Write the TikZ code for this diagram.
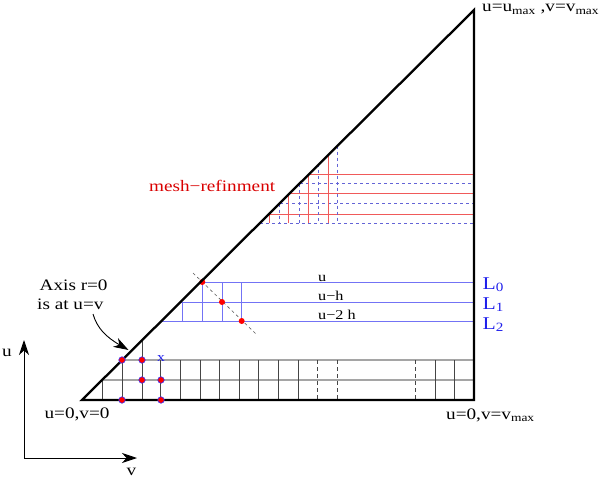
\documentclass[tikz,border=0pt]{standalone}
\usepackage{fontspec}
\setmainfont[FakeStretch=1.2]{Liberation Serif}
\usetikzlibrary{arrows.meta}
\definecolor{blueline}{RGB}{115,115,245}
\definecolor{redline}{RGB}{240,90,90}
\definecolor{bluedash}{RGB}{100,100,215}
\definecolor{gridh}{RGB}{165,165,165}
\definecolor{gridv}{RGB}{70,70,70}
\definecolor{lblue}{RGB}{30,30,235}
\begin{document}
\begin{tikzpicture}[x=1pt,y=-1pt,
  frame/.style={line width=2.3pt,line join=miter},
  gh/.style={gridh,line width=1.1pt},
  gv/.style={gridv,line width=0.8pt},
  gvd/.style={gridv,line width=0.8pt,dash pattern=on 4pt off 3pt},
  bl/.style={blueline,line width=0.9pt},
  rl/.style={redline,line width=1pt},
  bd/.style={bluedash,line width=0.9pt,dash pattern=on 3pt off 3pt},
  meshdot/.style={circle,fill=red,draw=blue!80,line width=0.6pt,inner sep=0pt,minimum size=6.5pt},
  reddot/.style={circle,fill=red,inner sep=0pt,minimum size=6pt},
  txt/.style={inner sep=0pt,font=\fontsize{16}{18}\selectfont},
  small/.style={inner sep=0pt,font=\fontsize{13.5}{15}\selectfont},
  llab/.style={inner sep=0pt,text=lblue,font=\fontsize{18}{20}\selectfont},
  arr/.style={line width=0.9pt,-{Stealth[length=15pt,width=10pt,inset=4.5pt]}}
]
\useasboundingbox (0,0) rectangle (599,478);

% ---------- bottom mesh ----------
\draw[gh] (122.2,360) -- (474,360);
\draw[gh] (102.1,380) -- (474,380);
\draw[gv] (102.1,380) -- (102.1,400);
\draw[gv] (122,360) -- (122,400);
\draw[gv] (142,340.3) -- (142,400);
\foreach \k in {3,...,10,17,18} {
  \draw[gv] ({102+19.6*\k},360) -- ({102+19.6*\k},400);
}
\foreach \k in {11,12,16} {
  \draw[gvd] ({102+19.6*\k},360) -- ({102+19.6*\k},400);
}

% ---------- blue lines L0 L1 L2 ----------
\draw[bl] (200.6,282) -- (474,282);
\draw[bl] (180.5,302) -- (474,302);
\draw[bl] (161.4,321) -- (474,321);
\draw[bl] (182.5,302) -- (182.5,321);
\draw[bl] (202.3,282) -- (202.3,321);
\draw[bl] (222,282) -- (222,321);
\draw[bl] (241.7,282) -- (241.7,321);
\coordinate (dA) at (193,273);
\coordinate (dB) at (256,334);
\draw[gray!70!black,line width=0.6pt,dash pattern=on 3pt off 3pt] (dA) -- (dB);
\node[reddot] (r0) at (202.3,282) {};
\node[reddot] (r1) at (222,302) {};
\node[reddot] (r2) at (241.7,321) {};

% ---------- mesh refinement ----------
\draw[rl] (308.7,174.5) -- (474,174.5);
\draw[rl] (289.3,193.5) -- (474,193.5);
\draw[rl] (268.5,214.5) -- (474,214.5);
\draw[bd] (299.8,183.5) -- (474,183.5);
\draw[bd] (280.0,203.5) -- (474,203.5);
\draw[bd] (259.9,223.5) -- (474,223.5);
\draw[rl] (269.5,213.7) -- (269.5,223.5);
\draw[rl] (288.5,194.4) -- (288.5,223.5);
\draw[rl] (308.5,174.9) -- (308.5,223.5);
\draw[rl] (328.5,155.0) -- (328.5,223.5);
\draw[bd] (279.3,203.7) -- (279.3,223.5);
\draw[bd] (299.0,184.1) -- (299.0,223.5);
\draw[bd] (318.7,164.5) -- (318.7,223.5);
\draw[bd] (337.7,145.6) -- (337.7,223.5);

% ---------- triangle ----------
\coordinate (A) at (82,400);
\coordinate (B) at (474,10);
\coordinate (C) at (474,400);
\draw[frame] (A) -- (B) -- (C) -- cycle;

% ---------- mesh dots ----------
\node[meshdot] (m1) at (122,360) {};
\node[meshdot] (m2) at (142,360) {};
\node[meshdot] (m3) at (142,380) {};
\node[meshdot] (m4) at (161,380) {};
\node[meshdot] (m5) at (122,400) {};
\node[meshdot] (m6) at (161,400) {};
\node[inner sep=0pt,text=lblue,font=\fontsize{13}{14}\selectfont] (xl) at (161,358.5) {x};

% ---------- labels ----------
\node[txt,anchor=base west] (tl) at (482,12) {u=u\textsubscript{max} ,v=v\textsubscript{max}};
\node[txt,anchor=base] (bl0) at (77,418) {u=0,v=0};
\node[txt,anchor=base west] (br) at (446,419) {u=0,v=v\textsubscript{max}};
\node[txt,anchor=base west,text=red!85!black] (mr) at (149,191.5) {mesh−refinment};
\node[small,anchor=base west] (lu) at (318,281) {u};
\node[small,anchor=base west] (luh) at (318,300.5) {u−h};
\node[small,anchor=base west] (lu2h) at (318,319.5) {u−2 h};
\node[llab,anchor=base west] (L0) at (482.5,289) {L\textsubscript{0}};
\node[llab,anchor=base west] (L1) at (482.5,309) {L\textsubscript{1}};
\node[llab,anchor=base west] (L2) at (482.5,329) {L\textsubscript{2}};
\node[txt,anchor=base west] (ax1) at (39.5,290) {Axis r=0};
\node[txt,anchor=base west] (ax2) at (37,309) {is at u=v};

% curved arrow to the axis
\coordinate (cs) at (93,314);
\coordinate (ce) at (128.5,350);
\draw[arr] (cs) .. controls (97,328) and (106,337) .. (ce);

% ---------- coordinate axes ----------
\coordinate (O) at (24,458);
\coordinate (uT) at (24,340);
\coordinate (vT) at (137,458);
\draw[arr] (O) -- (uT);
\draw[arr] (O) -- (vT);
\node[txt,anchor=base] (ulab) at (7,356) {u};
\node[txt,anchor=base] (vlab) at (131.5,475.5) {v};
\end{tikzpicture}
\end{document}
